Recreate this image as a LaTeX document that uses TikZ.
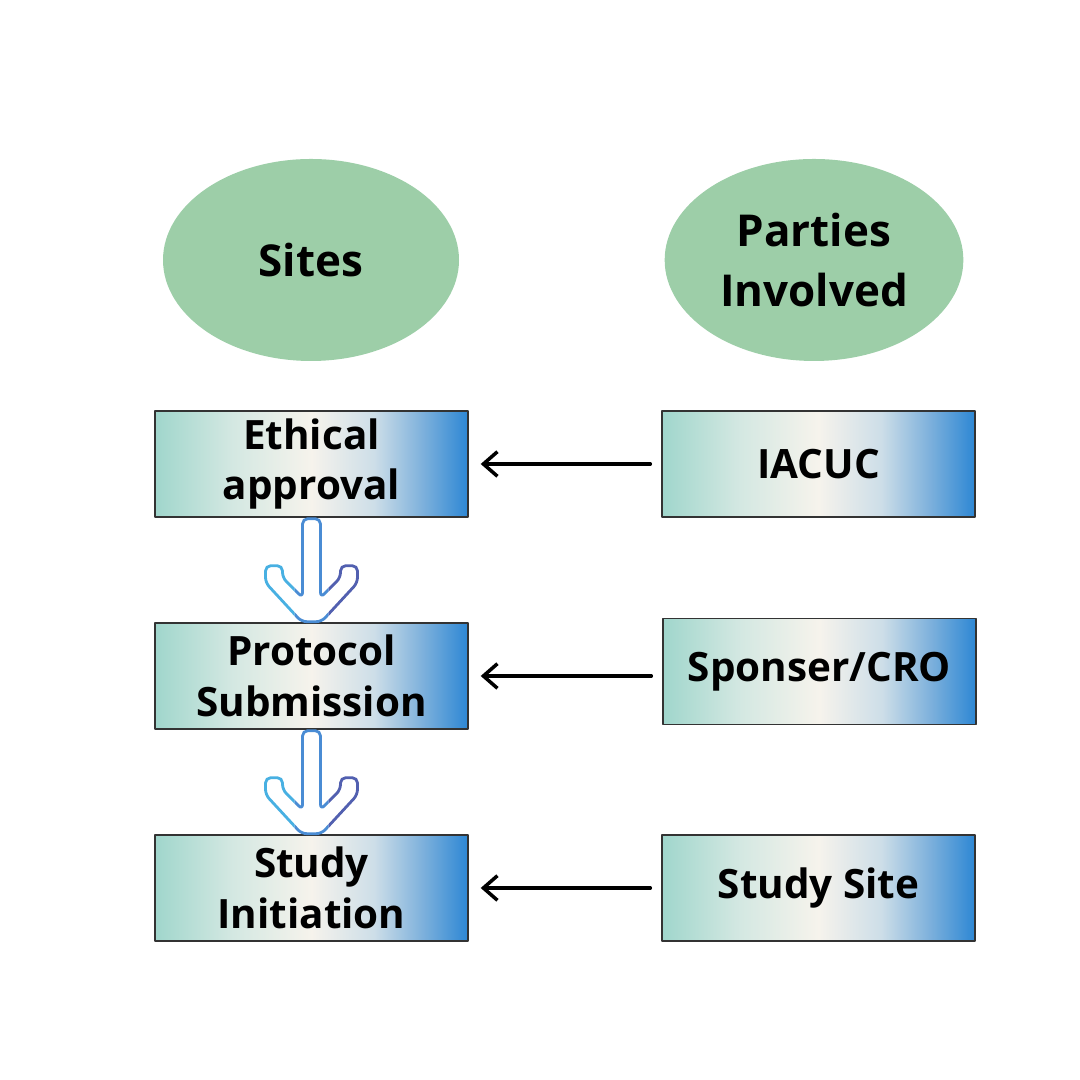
\documentclass[tikz,border=0pt]{standalone}
\usepackage{fontspec}
\setmainfont{Open Sans}
\usepackage{tikz}
\usetikzlibrary{arrows.meta}
\usetikzlibrary{shapes.geometric}
\usetikzlibrary{positioning}
\definecolor{sitegreen}{RGB}{157,206,168}
\definecolor{boxteal}{RGB}{160,214,204}
\definecolor{boxpale}{RGB}{212,232,226}
\definecolor{boxcream}{RGB}{246,243,236}
\definecolor{boxmist}{RGB}{205,222,232}
\definecolor{boxsky}{RGB}{128,178,220}
\definecolor{boxblue}{RGB}{45,135,212}
\definecolor{arrowcyan}{RGB}{72,176,226}
\definecolor{arrowblue}{RGB}{74,140,212}
\definecolor{arrowindigo}{RGB}{82,96,176}
% the middle 50bp of the shading fill the box
\pgfdeclarehorizontalshading{stageshade}{100bp}{color(0bp)=(boxteal); color(25bp)=(boxteal);
  color(37.5bp)=(boxpale); color(50bp)=(boxcream); color(60bp)=(boxmist);
  color(67.5bp)=(boxsky); color(75bp)=(boxblue); color(100bp)=(boxblue)}

\tikzset{
  headline/.style={ellipse, fill=sitegreen, minimum width=2.96cm, minimum height=2.02cm,
    align=center, font=\fontsize{12.5}{17}\selectfont\bfseries},
  stagebox/.style={rectangle, draw=black!80, line width=0.4pt, minimum width=3.13cm,
    minimum height=1.06cm, inner ysep=0pt, shading=stageshade,
    align=center, font=\fontsize{11.5}{14.5}\selectfont\bfseries},
  feed/.style={line width=1pt, -{Straight Barb[length=4pt, width=7pt]},
    shorten <=0.11cm, shorten >=0.12cm},
  pics/flowarrow/.style={code={
    \foreach \xa/\xb/\col in {-0.6/-0.17/arrowcyan, -0.17/0.17/arrowblue, 0.17/0.6/arrowindigo}{
      \begin{scope}
        \clip (\xa,0.1) rectangle (\xb,-1.15);
        \draw[\col, line width=0.8pt, rounded corners=1.5pt]
          (-0.09,0) -- (0.09,0) -- (0.09,-0.79) -- (0.29,-0.59) -- (0.29,-0.47)
          -- (0.46,-0.47) -- (0.46,-0.64) -- (0.10,-1.03) -- (-0.10,-1.03)
          -- (-0.46,-0.64) -- (-0.46,-0.47) -- (-0.29,-0.47) -- (-0.29,-0.59)
          -- (-0.09,-0.79) -- cycle;
      \end{scope}
    }
  }}
}

\begin{document}
\begin{tikzpicture}[line cap=round,line join=round,x=1cm,y=1cm]
\useasboundingbox (0,0) rectangle (10.8,10.8);
% headers
\node[headline] (sites) at (3.11,8.20) {Sites};
\node[headline] (parties) at (8.14,8.20) {Parties\\Involved};
% left column
\node[stagebox] (ethical) at (3.115,6.16) {Ethical\\approval};
\node[stagebox] (protocol) at (3.115,4.04) {Protocol\\Submission};
\node[stagebox] (initiation) at (3.115,1.92) {Study\\Initiation};
% right column
\node[stagebox] (iacuc) at (8.185,6.16) {IACUC};
\node[stagebox] (sponser) at (8.195,4.085) {Sponser/CRO};
\node[stagebox] (studysite) at (8.185,1.92) {Study Site};
% flow between stages
\pic at ([yshift=-0.01cm]ethical.south) {flowarrow};
\pic at ([yshift=-0.01cm]protocol.south) {flowarrow};
% who is involved
\draw[feed] (iacuc.west) -- (ethical.east);
\draw[feed] (sponser.west |- protocol.east) -- (protocol.east);
\draw[feed] (studysite.west) -- (initiation.east);
\end{tikzpicture}
\end{document}
